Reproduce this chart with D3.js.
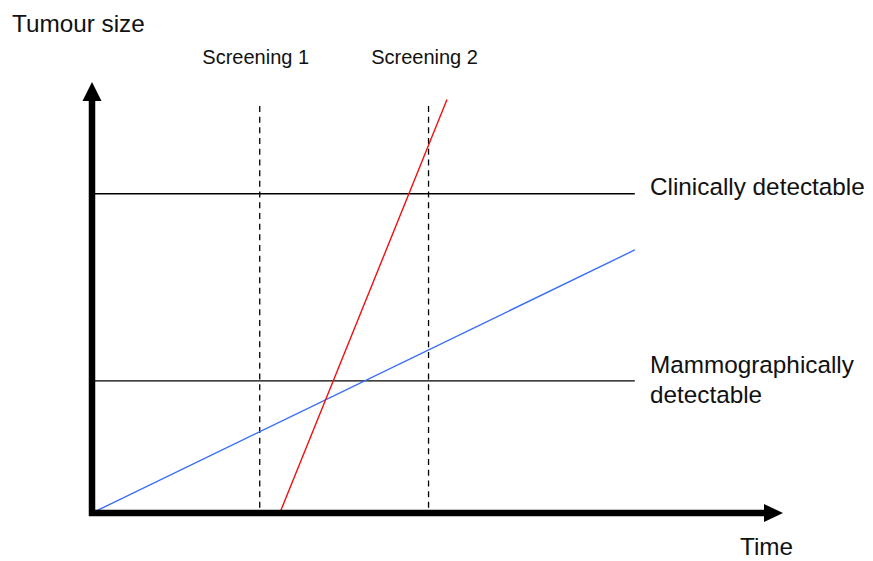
<!DOCTYPE html>
<html lang="en">
<head>
    <meta charset="UTF-8">
    <title>Tumour size over time</title>
    <script src="https://d3js.org/d3.v7.min.js"></script>
    <style>
        body { margin: 0; background: #fff; }
        text { font-family: "Liberation Sans", Arial, Helvetica, sans-serif; fill: #111; }
    </style>
</head>
<body>
    <div id="chart"></div>

    <script>
        // time runs 0..12.7 on the x axis, size 0..13.5 on the y axis (arbitrary units)
        const axisMax = { time: 12.73, size: 13.5 };

        // detection thresholds (horizontal lines)
        const thresholdNames = ["Clinically detectable", "Mammographically detectable"];
        const thresholdSizes = [10, 4.14];
        const thresholdEnd = 10;

        // screening times (dashed verticals)
        const screeningNames = ["Screening 1", "Screening 2"];
        const screeningTimes = [3.09, 6.2];
        const screeningTop = 12.75;

        // tumour growth lines: [time, size] points
        const slowTumour = [[0, 0], [10, 8.24]];
        const fastTumour = [[3.46, 0], [6.54, 12.95]];

        const width = 873, height = 561;
        const origin = { x: 92, y: 513 };

        const svg = d3.select("#chart")
            .append("svg")
            .attr("width", width)
            .attr("height", height);

        const x = d3.scaleLinear()
            .domain([0, axisMax.time])
            .range([origin.x, 783]);

        const y = d3.scaleLinear()
            .domain([0, axisMax.size])
            .range([origin.y, 82]);

        const line = d3.line()
            .x(d => x(d[0]))
            .y(d => y(d[1]));

        // threshold lines
        svg.selectAll(".threshold")
            .data(thresholdSizes)
            .enter()
            .append("line")
            .attr("class", "threshold")
            .attr("x1", x(0))
            .attr("x2", x(thresholdEnd))
            .attr("y1", d => y(d))
            .attr("y2", d => y(d))
            .attr("stroke", "#000")
            .attr("stroke-width", 1.3);

        // screening dashed lines
        svg.selectAll(".screening")
            .data(screeningTimes)
            .enter()
            .append("line")
            .attr("class", "screening")
            .attr("x1", d => x(d))
            .attr("x2", d => x(d))
            .attr("y1", y(screeningTop))
            .attr("y2", y(0))
            .attr("stroke", "#000")
            .attr("stroke-width", 1.3)
            .attr("stroke-dasharray", "6,4.7");

        svg.selectAll(".screening-label")
            .data(screeningTimes)
            .enter()
            .append("text")
            .attr("class", "screening-label")
            .attr("x", d => x(d) - 4)
            .attr("y", 64)
            .attr("text-anchor", "middle")
            .style("font-size", "20px")
            .text((d, i) => screeningNames[i]);

        // growth lines
        svg.append("path")
            .datum(slowTumour)
            .attr("d", line)
            .attr("fill", "none")
            .attr("stroke", "#3b6ff5")
            .attr("stroke-width", 1.4);

        svg.append("path")
            .datum(fastTumour)
            .attr("d", line)
            .attr("fill", "none")
            .attr("stroke", "#f01010")
            .attr("stroke-width", 1.4);

        // axes with arrow heads
        const head = 19;
        svg.append("line")
            .attr("x1", x(0) - 3).attr("x2", x(axisMax.time) - head + 2)
            .attr("y1", y(0)).attr("y2", y(0))
            .attr("stroke", "#000").attr("stroke-width", 6.5);
        svg.append("path")
            .attr("d", `M${x(axisMax.time)},${y(0)} L${x(axisMax.time) - head},${y(0) - 9} L${x(axisMax.time) - head},${y(0) + 9} Z`)
            .attr("fill", "#000");

        svg.append("line")
            .attr("x1", x(0)).attr("x2", x(0))
            .attr("y1", y(0) + 3).attr("y2", y(axisMax.size) + head - 2)
            .attr("stroke", "#000").attr("stroke-width", 6.5);
        svg.append("path")
            .attr("d", `M${x(0)},${y(axisMax.size)} L${x(0) - 9.5},${y(axisMax.size) + head} L${x(0) + 9.5},${y(axisMax.size) + head} Z`)
            .attr("fill", "#000");

        // threshold labels
        svg.append("text")
            .attr("x", 650).attr("y", y(thresholdSizes[0]) + 1)
            .style("font-size", "24.3px")
            .text(thresholdNames[0]);

        const mammo = svg.append("text")
            .attr("x", 650).attr("y", y(thresholdSizes[1]) - 8)
            .style("font-size", "24.3px");
        mammo.append("tspan").attr("x", 650).text("Mammographically");
        mammo.append("tspan").attr("x", 650).attr("dy", 30).text("detectable");

        // axis titles
        svg.append("text")
            .attr("x", 12).attr("y", 32)
            .style("font-size", "24.3px")
            .text("Tumour size");

        svg.append("text")
            .attr("x", 740).attr("y", 555)
            .style("font-size", "24.3px")
            .text("Time");
    </script>
</body>
</html>
